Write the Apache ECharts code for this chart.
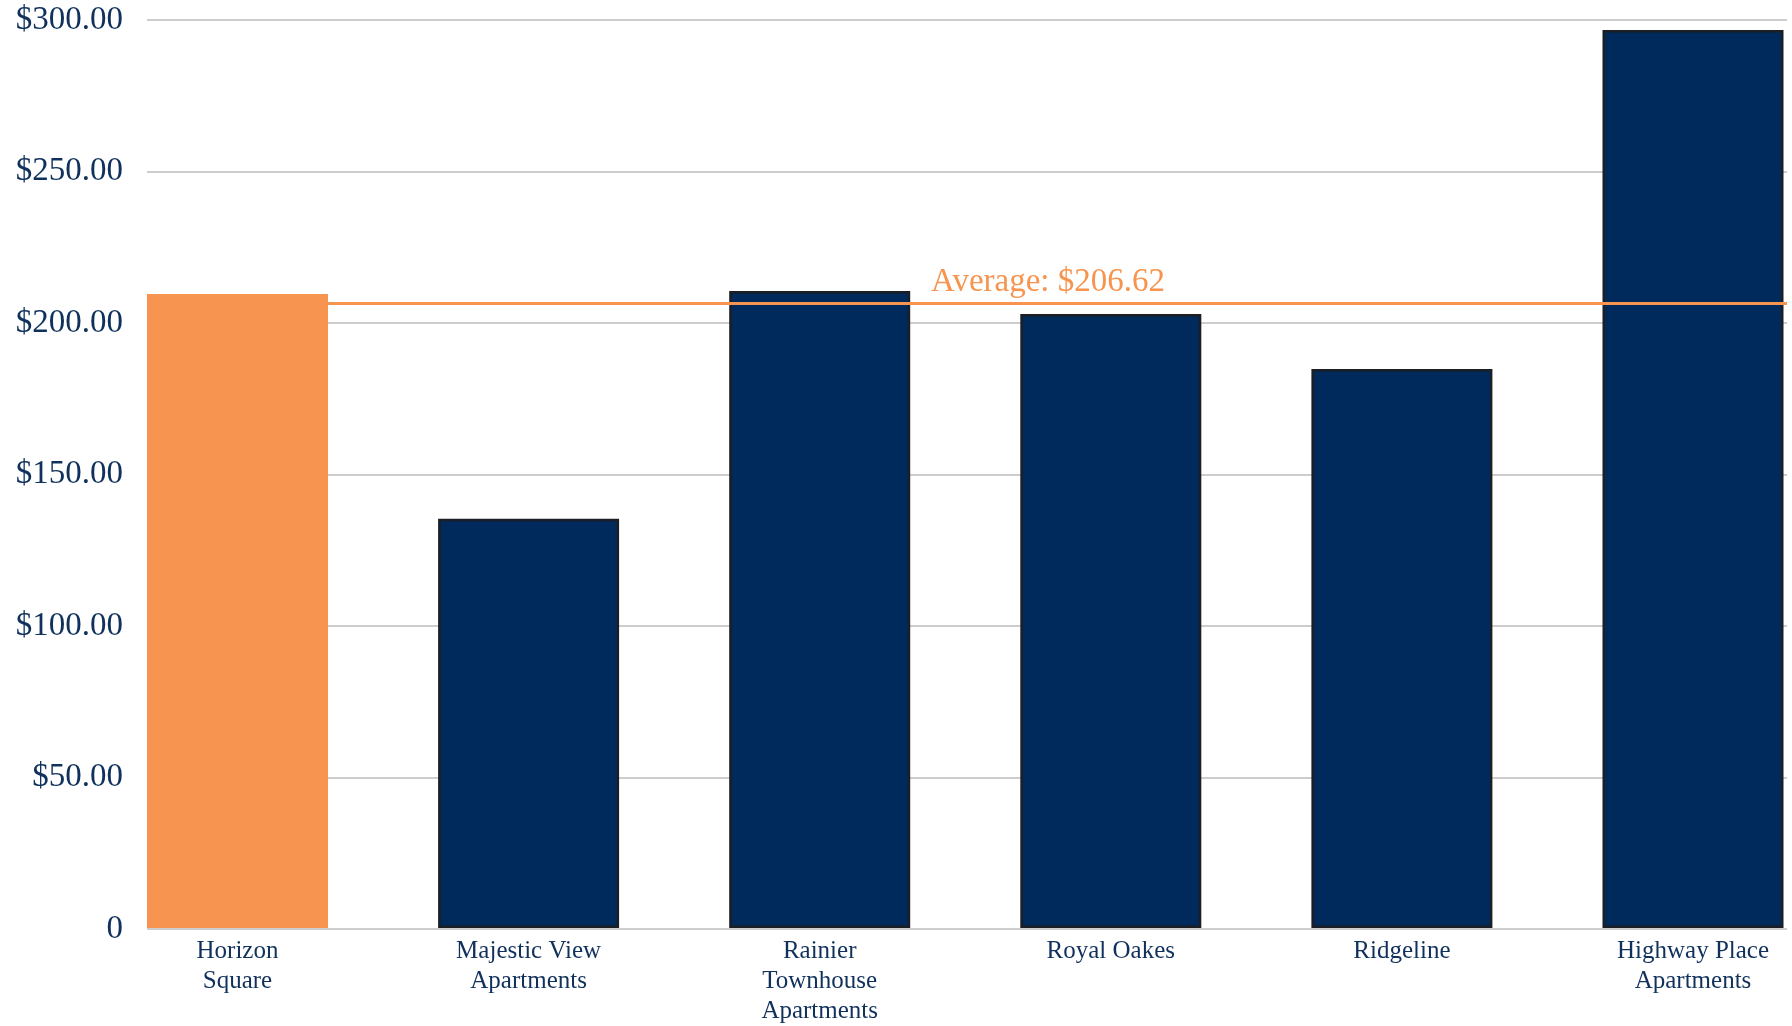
<!DOCTYPE html>
<html>
<head>
<meta charset="utf-8">
<script src="https://cdn.jsdelivr.net/npm/echarts@6/dist/echarts.min.js"></script>
<style>
  html, body { margin: 0; padding: 0; background: #ffffff; }
  #chart { width: 1792px; height: 1026px; }
</style>
</head>
<body>
<div id="chart"></div>
<script>
const categories = [
  "Horizon\nSquare",
  "Majestic View\nApartments",
  "Rainier\nTownhouse\nApartments",
  "Royal Oakes",
  "Ridgeline",
  "Highway Place\nApartments"
];
const rentValues = [209.5, 135.2, 210.5, 202.9, 184.7, 296.7];
const highlightIndex = 0;
const averageValue = 206.62;
const averageLabel = "Average: $206.62";
const yTickValues = [0, 50, 100, 150, 200, 250, 300];
const yTickLabels = ["0", "$50.00", "$100.00", "$150.00", "$200.00", "$250.00", "$300.00"];

const ORANGE = "#f7944f";
const NAVY = "#002a5b";
const TEXT = "#10315c";
const FONT = "Liberation Serif";

const chart = echarts.init(document.getElementById("chart"));

const barData = rentValues.map((v, i) => (
  i === highlightIndex
    ? { value: v, itemStyle: { color: ORANGE, borderWidth: 0 } }
    : { value: v, itemStyle: { color: NAVY, borderColor: "#1b1e25", borderWidth: 2.5 } }
));

chart.setOption({
  animation: false,
  backgroundColor: "#ffffff",
  grid: [
    { left: 147, right: 5, top: 20, bottom: 97 },
    { left: 237.5, right: 99, top: 20, bottom: 97 }
  ],
  xAxis: [
    { gridIndex: 0, type: "value", min: 0, max: 1, show: false },
    {
      gridIndex: 1, type: "category", data: categories, boundaryGap: false,
      axisLine: { show: false }, axisTick: { show: false }, splitLine: { show: false },
      axisLabel: {
        interval: 0, margin: 8, color: TEXT, fontFamily: FONT, fontSize: 25,
        lineHeight: 30, align: "center"
      }
    }
  ],
  yAxis: [
    {
      gridIndex: 0, type: "value", min: 0, max: 300, interval: 50,
      axisLine: { show: false }, axisTick: { show: false },
      axisLabel: {
        margin: 24, color: TEXT, fontFamily: FONT, fontSize: 33,
        formatter: function (v) {
          const idx = yTickValues.indexOf(v);
          return idx >= 0 ? yTickLabels[idx] : "";
        }
      },
      splitLine: { show: true, lineStyle: { color: "#bdbdbd", width: 1.5 } }
    },
    { gridIndex: 1, type: "value", min: 0, max: 300, interval: 50, show: false, splitLine: { show: false } }
  ],
  series: [
    {
      type: "bar",
      xAxisIndex: 1, yAxisIndex: 1,
      data: barData,
      barWidth: 181,
      clip: false,
      z: 2,
      silent: true
    },
    {
      type: "line",
      xAxisIndex: 0, yAxisIndex: 0,
      data: [],
      z: 5,
      silent: true,
      markLine: {
        symbol: "none",
        silent: true,
        z: 5,
        lineStyle: { color: ORANGE, width: 3, type: "solid" },
        label: {
          show: true,
          position: "insideStartTop",
          distance: [784, 4],
          formatter: averageLabel,
          color: ORANGE,
          fontFamily: FONT,
          fontSize: 33
        },
        data: [{ yAxis: averageValue }]
      }
    }
  ]
});
</script>
</body>
</html>
